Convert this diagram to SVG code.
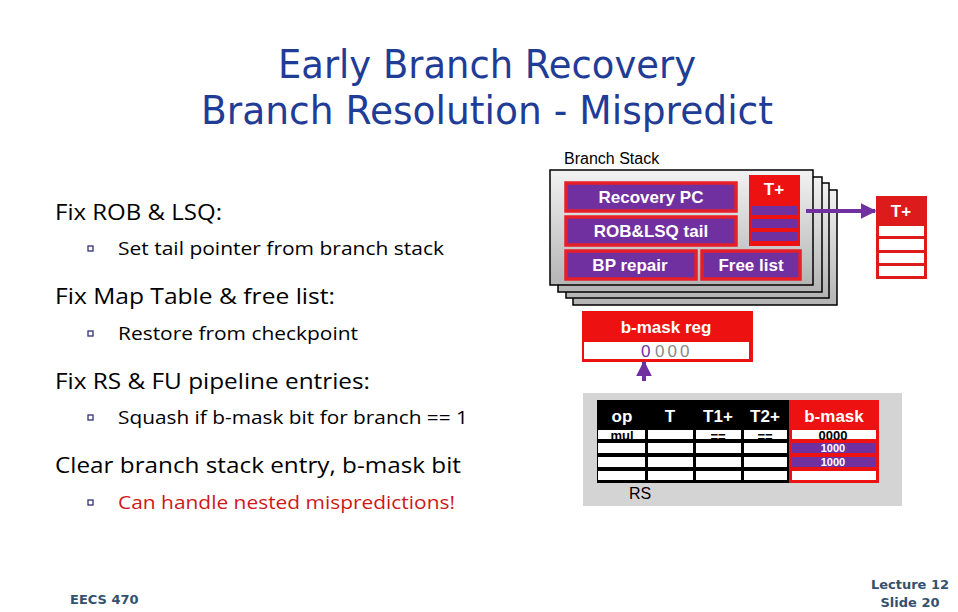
<svg xmlns="http://www.w3.org/2000/svg" width="958" height="612" viewBox="0 0 958 612">
<defs>
<linearGradient id="card" x1="0" y1="0" x2="0" y2="1">
<stop offset="0" stop-color="#f2f2f2"/>
<stop offset="1" stop-color="#b4b4b4"/>
</linearGradient>
<marker id="arr" viewBox="0 0 10 10" refX="9" refY="5" markerWidth="4" markerHeight="4" orient="auto" markerUnits="strokeWidth">
<path d="M0,0 L10,5 L0,10 Z" fill="#7030a0"/>
</marker>
<style>
.title{font-family:"DejaVu Sans",sans-serif;font-size:39px;fill:#1f3c96;text-anchor:middle}
.h{font-family:"Open Sans","Noto Sans",sans-serif;font-size:21px;fill:#000}
.b{font-family:"Open Sans","Noto Sans",sans-serif;font-size:19px;fill:#000}
.bul{fill:#fff;stroke:#30307a;stroke-width:1.3}
.card{fill:url(#card);stroke:#000;stroke-width:1.5}
.pbox{fill:#7030a0;stroke:#e61e28;stroke-width:3.5}
.wl{font-family:"Liberation Sans",Arial,sans-serif;font-weight:bold;fill:#fff;text-anchor:middle}
.lbl{font-family:"Liberation Sans",Arial,sans-serif;fill:#000}
.cell{fill:#fff}
.foot{font-family:"DejaVu Sans",sans-serif;font-size:13px;font-weight:bold;fill:#34506e}
.conn{stroke:#7030a0;stroke-width:4;fill:none}
</style>
</defs>
<rect width="958" height="612" fill="#fff"/>

<g id="title">
<text class="title" x="487" y="78" textLength="418" lengthAdjust="spacingAndGlyphs">Early Branch Recovery</text>
<text class="title" x="487" y="124" textLength="572" lengthAdjust="spacingAndGlyphs">Branch Resolution - Mispredict</text>
</g>

<g id="bullets">
<text class="h" x="55" y="220" textLength="167" lengthAdjust="spacingAndGlyphs">Fix ROB &amp; LSQ:</text>
<rect class="bul" x="88" y="246" width="5" height="5"/>
<text class="b" x="118" y="255" textLength="326" lengthAdjust="spacingAndGlyphs">Set tail pointer from branch stack</text>
<text class="h" x="55" y="304" textLength="280" lengthAdjust="spacingAndGlyphs">Fix Map Table &amp; free list:</text>
<rect class="bul" x="88" y="331" width="5" height="5"/>
<text class="b" x="118" y="340" textLength="240" lengthAdjust="spacingAndGlyphs">Restore from checkpoint</text>
<text class="h" x="55" y="389" textLength="315" lengthAdjust="spacingAndGlyphs">Fix RS &amp; FU pipeline entries:</text>
<rect class="bul" x="88" y="415" width="5" height="5"/>
<text class="b" x="118" y="424" textLength="350" lengthAdjust="spacingAndGlyphs">Squash if b-mask bit for branch == 1</text>
<text class="h" x="55" y="473" textLength="406" lengthAdjust="spacingAndGlyphs">Clear branch stack entry, b-mask bit</text>
<rect class="bul" x="88" y="500" width="5" height="5"/>
<text class="b" x="118" y="509" textLength="337" lengthAdjust="spacingAndGlyphs" style="fill:#d01818">Can handle nested mispredictions!</text>
</g>

<g id="branch-stack">
<text class="lbl" x="564" y="164" font-size="16">Branch Stack</text>
<rect class="card" x="573" y="190" width="264" height="115"/>
<rect class="card" x="566" y="183" width="263" height="115"/>
<rect class="card" x="558" y="177" width="264" height="115"/>
<rect class="card" x="550" y="170" width="263" height="115"/>
<rect class="pbox" x="566" y="183" width="170" height="28"/>
<text class="wl" x="651" y="203" font-size="17">Recovery PC</text>
<rect class="pbox" x="566" y="217" width="170" height="28"/>
<text class="wl" x="651" y="237" font-size="17">ROB&amp;LSQ tail</text>
<rect class="pbox" x="566" y="251" width="130" height="28"/>
<text class="wl" x="630" y="271" font-size="17">BP repair</text>
<rect class="pbox" x="702" y="251" width="98" height="28"/>
<text class="wl" x="751" y="271" font-size="17">Free list</text>
<rect x="749" y="175" width="51" height="71" fill="#ee1111"/>
<text class="wl" x="774" y="195" font-size="17">T+</text>
<rect x="752" y="206" width="45" height="9" fill="#7030a0"/>
<rect x="752" y="219" width="45" height="9" fill="#7030a0"/>
<rect x="752" y="232" width="45" height="9" fill="#7030a0"/>
</g>

<g id="map-table">
<rect x="876" y="196" width="51" height="83" fill="#dd1b1b"/>
<text class="wl" x="901" y="217" font-size="17">T+</text>
<rect class="cell" x="879" y="226" width="45" height="10"/>
<rect class="cell" x="879" y="239" width="45" height="11"/>
<rect class="cell" x="879" y="253" width="45" height="10"/>
<rect class="cell" x="879" y="266" width="45" height="10"/>
</g>

<g id="bmask-reg">
<rect x="582" y="311" width="171" height="51" fill="#ee1111"/>
<text class="wl" x="666" y="333" font-size="17">b-mask reg</text>
<rect class="cell" x="584" y="342" width="165" height="17"/>
<text x="641" y="357" font-family="Liberation Sans,Arial,sans-serif" font-size="17" fill="#7030a0">0</text>
<text x="655" y="357" font-family="Liberation Sans,Arial,sans-serif" font-size="17" fill="#888" letter-spacing="3">000</text>
</g>

<g id="rs">
<rect x="583" y="393" width="319" height="113" fill="#d4d4d4"/>
<rect x="597" y="400" width="192" height="83" fill="#000"/>
<rect x="789" y="400" width="90" height="83" fill="#ee1111"/>
<g font-family="Liberation Sans,Arial,sans-serif" font-weight="bold" font-size="17" fill="#fff" text-anchor="middle">
<text x="622" y="422">op</text>
<text x="670" y="422">T</text>
<text x="718" y="422">T1+</text>
<text x="765" y="422">T2+</text>
<text x="834" y="422">b-mask</text>
</g>
<g class="cell">
<rect x="598" y="430" width="47" height="9"/><rect x="648" y="430" width="45" height="9"/><rect x="696" y="430" width="45" height="9"/><rect x="744" y="430" width="43" height="9"/><rect x="792" y="430" width="84" height="9"/>
<rect x="598" y="443" width="47" height="10"/><rect x="648" y="443" width="45" height="10"/><rect x="696" y="443" width="45" height="10"/><rect x="744" y="443" width="43" height="10"/>
<rect x="598" y="457" width="47" height="10"/><rect x="648" y="457" width="45" height="10"/><rect x="696" y="457" width="45" height="10"/><rect x="744" y="457" width="43" height="10"/>
<rect x="598" y="471" width="47" height="9"/><rect x="648" y="471" width="45" height="9"/><rect x="696" y="471" width="45" height="9"/><rect x="744" y="471" width="43" height="9"/><rect x="792" y="471" width="84" height="9"/>
</g>
<rect x="792" y="443" width="84" height="10" fill="#7030a0"/>
<rect x="792" y="457" width="84" height="10" fill="#7030a0"/>
<g font-family="Liberation Sans,Arial,sans-serif" font-weight="bold" font-size="13" text-anchor="middle">
<text x="622" y="440" fill="#000">mul</text>
<text x="718" y="441" fill="#000">==</text>
<text x="765" y="441" fill="#000">==</text>
<text x="833" y="440" fill="#000">0000</text>
<text x="833" y="452" fill="#fff" font-size="11">1000</text>
<text x="833" y="466" fill="#fff" font-size="11">1000</text>
</g>
<text class="lbl" x="640" y="499" font-size="16" text-anchor="middle">RS</text>
</g>

<g id="connectors">
<line class="conn" x1="806" y1="211" x2="875" y2="211" marker-end="url(#arr)"/>
<line class="conn" x1="644" y1="381" x2="644" y2="362" marker-end="url(#arr)"/>
</g>

<g id="footer">
<text class="foot" x="70" y="604">EECS 470</text>
<text class="foot" x="910" y="589" text-anchor="middle">Lecture 12</text>
<text class="foot" x="910" y="607" text-anchor="middle">Slide 20</text>
</g>
</svg>
